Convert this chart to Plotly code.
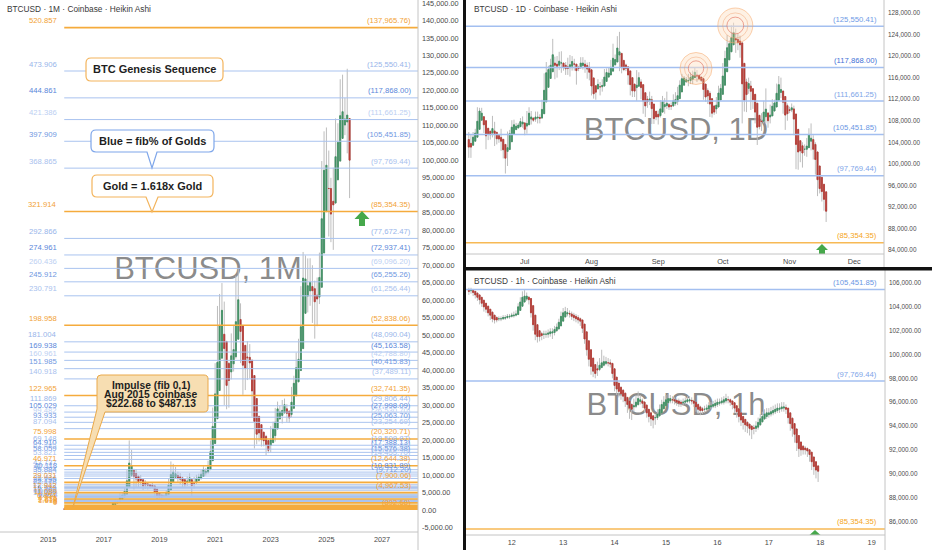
import plotly.graph_objects as go
import pandas as pd

W, H = 932, 550
FONT = "Liberation Sans, Arial, sans-serif"
UP, DN, WICK = "#3f9163", "#b63a33", "#bdbdbd"

# ---------------- Monthly Heikin Ashi (thousands USD), from Aug 2015 ----------------
m_open_k = [0.26, 0.25, 0.24, 0.26, 0.32,
            0.36, 0.38, 0.39, 0.41, 0.42, 0.46, 0.54, 0.60, 0.59, 0.59, 0.62, 0.67,
            0.77, 0.86, 0.97, 1.04, 1.13, 1.54, 2.01, 2.27, 3.02, 3.64, 4.49, 6.41,
            9.91, 11.29, 10.42, 9.64, 8.87, 8.65, 7.75, 7.46, 7.28, 7.04, 6.88, 6.00,
            4.89, 4.28, 3.99, 3.96, 4.37, 5.72, 7.95, 9.37, 9.85, 9.50, 9.16, 8.67,
            7.95, 8.10, 8.66, 7.83, 7.75, 8.41, 8.93, 9.58, 10.60, 10.84, 11.55, 14.10,
            19.00, 26.10, 34.17, 43.42, 50.26, 48.21, 41.92, 39.48, 41.79, 43.83, 48.84, 54.48,
            52.77, 47.09, 43.77, 43.65, 42.85, 38.45, 31.89, 26.78, 24.41, 22.26, 21.04, 19.85,
            18.48, 19.26, 21.24, 23.17, 26.05, 27.05, 27.76, 28.94, 28.29, 27.31, 29.08, 32.65,
            36.65, 39.88, 46.15, 56.24, 61.17, 62.66, 63.90, 63.30, 61.43, 60.88, 63.70, 73.50,
            85.33, 91.96, 91.95, 88.29, 87.78, 94.42, 99.78, 106.28, 110.10, 110.97, 111.96]
m_high_k = [0.28, 0.25, 0.33, 0.50, 0.47,
            0.46, 0.45, 0.44, 0.47, 0.55, 0.78, 0.70, 0.63, 0.63, 0.72, 0.76, 0.98,
            1.15, 1.22, 1.30, 1.38, 2.76, 3.00, 2.95, 4.75, 5.00, 6.47, 11.40, 19.89,
            17.18, 11.79, 11.68, 9.77, 9.99, 8.65, 8.50, 7.76, 7.41, 7.68, 6.88, 6.00,
            4.89, 4.28, 4.14, 5.64, 9.07, 13.88, 13.20, 12.33, 10.96, 10.54, 9.53, 8.67,
            9.58, 10.50, 9.20, 9.47, 10.07, 10.39, 11.44, 12.48, 12.05, 14.10, 19.90, 29.30,
            41.99, 58.35, 61.79, 64.90, 59.60, 48.21, 42.40, 50.50, 52.95, 67.00, 69.00, 59.10,
            52.77, 47.09, 48.24, 47.44, 42.85, 38.45, 31.89, 26.78, 24.41, 22.26, 21.48, 19.85,
            23.96, 25.25, 29.20, 31.00, 29.83, 31.45, 31.86, 30.25, 28.29, 35.20, 38.40, 45.00,
            48.97, 64.00, 73.80, 72.80, 71.95, 72.00, 70.00, 65.60, 66.50, 73.60, 99.80, 108.30,
            109.40, 102.80, 95.00, 97.90, 112.00, 110.60, 123.20, 124.50, 117.90, 126.20, 111.96]
m_low_k = [0.20, 0.23, 0.24, 0.26, 0.32,
           0.35, 0.37, 0.39, 0.41, 0.42, 0.46, 0.54, 0.47, 0.57, 0.59, 0.62, 0.67,
           0.75, 0.86, 0.89, 1.04, 1.13, 1.54, 1.83, 2.27, 2.95, 3.64, 4.49, 6.41,
           9.40, 5.87, 6.53, 6.43, 7.03, 5.75, 6.07, 5.88, 6.10, 6.20, 3.55, 3.12,
           3.36, 3.39, 3.67, 3.96, 4.37, 5.72, 7.95, 9.33, 7.71, 7.30, 6.51, 6.43,
           6.85, 8.10, 3.85, 6.15, 7.75, 8.41, 8.93, 9.58, 9.82, 10.38, 11.55, 14.10,
           19.00, 26.10, 34.17, 43.42, 30.00, 28.80, 29.28, 37.33, 39.60, 43.30, 48.84, 42.00,
           32.95, 34.30, 37.15, 37.58, 26.70, 17.60, 18.78, 19.60, 18.15, 18.20, 15.48, 16.26,
           16.50, 19.26, 19.55, 23.17, 25.88, 24.75, 27.76, 25.17, 24.90, 26.54, 29.08, 32.65,
           36.65, 39.88, 46.15, 56.24, 56.50, 58.40, 53.50, 49.00, 52.55, 58.90, 63.70, 73.50,
           85.33, 78.20, 76.60, 74.40, 87.78, 94.42, 99.78, 106.28, 107.20, 102.00, 89.20]
m_close_k = [0.25, 0.23, 0.28, 0.37, 0.41,
             0.40, 0.40, 0.42, 0.44, 0.49, 0.63, 0.65, 0.57, 0.60, 0.66, 0.72, 0.86,
             0.96, 1.08, 1.12, 1.22, 1.94, 2.48, 2.54, 3.76, 4.26, 5.35, 8.33, 13.41,
             12.67, 9.55, 8.87, 8.09, 8.44, 6.85, 7.17, 7.10, 6.79, 6.72, 5.13, 3.79,
             3.66, 3.71, 3.93, 4.79, 7.06, 10.18, 10.80, 10.34, 9.14, 8.82, 8.18, 7.23,
             8.24, 9.21, 7.00, 7.67, 9.06, 9.45, 10.23, 11.61, 11.08, 12.27, 16.65, 23.90,
             33.20, 42.23, 52.68, 57.10, 46.16, 35.62, 37.05, 44.10, 45.87, 53.86, 60.13, 51.06,
             41.41, 40.45, 43.53, 42.05, 34.04, 25.33, 21.67, 22.04, 20.11, 19.81, 18.66, 17.10,
             20.04, 23.22, 25.10, 28.92, 28.05, 28.48, 30.11, 27.65, 26.33, 30.84, 36.22, 40.65,
             43.10, 52.41, 66.33, 66.09, 64.15, 65.15, 62.70, 59.55, 60.34, 66.51, 83.30, 97.15,
             98.60, 91.94, 84.63, 87.26, 101.05, 105.13, 112.78, 113.93, 111.84, 112.94, 100.05]

# ---------------- Daily Heikin Ashi (thousands USD), from 5 Jun 2025 ----------------
d_open_k = [104.5, 103.8, 103.45, 104.2, 104.95, 106.4, 108.1, 108.75, 108.0, 106.6, 106.05, 105.7, 106.1,
            105.85, 105.25, 104.9, 104.55, 103.6, 102.3, 102.65, 104.1, 105.45, 106.35, 106.65, 106.9, 107.4,
            107.6, 107.0, 107.25, 108.3, 108.5, 108.3, 108.5, 108.6, 108.5, 109.3, 111.5, 114.2, 115.85, 117.1,
            118.7, 118.5, 118.3, 118.7, 118.7, 118.3, 118.0, 117.85, 118.1, 118.55, 118.5, 117.9, 117.8, 118.25,
            118.5, 118.25, 117.9,
            117.45, 115.95, 114.5, 113.9, 114.3, 114.3, 114.45, 115.3, 116.1, 116.5, 117.2, 118.4, 118.9, 120.2,
            120.5, 119.2, 118.35, 118.0, 117.25, 116.0, 114.8, 114.15, 114.4, 115.2, 114.7, 113.2, 112.0, 111.75,
            111.9, 111.1, 109.75,
            109.2, 108.95, 109.6, 110.6, 110.8, 111.0, 110.8, 110.75, 111.2, 111.55, 112.1, 113.35, 114.6, 115.25,
            115.4, 115.45, 115.7, 116.0, 116.5, 116.45, 116.1, 115.8, 114.8, 113.6, 113.1, 112.1, 110.75, 110.2,
            110.55, 111.85,
            112.9, 114.6, 117.1, 119.3, 120.8, 122.1, 123.25, 123.1, 122.8, 122.45, 118.65, 115.2, 114.0, 114.45,
            113.95, 112.9, 111.25, 109.0, 107.95, 107.9, 108.75, 109.45, 108.7, 108.9, 109.8, 110.55, 111.8, 113.25,
            113.5, 112.5, 110.8,
            110.05, 110.0, 110.2, 109.25, 106.4, 104.3, 103.35, 102.7, 102.7, 103.0, 104.2, 104.5, 103.6, 102.2,
            99.6, 97.5, 96.2, 94.8]
d_high_k = [105.9, 105.5, 105.9, 106.5, 110.5, 110.4, 110.4, 108.8, 108.0, 106.6, 106.1, 108.9, 107.8,
            105.85, 105.25, 106.5, 104.55, 103.6, 106.0, 106.3, 108.1, 108.2, 107.6, 107.6, 108.5, 108.8,
            107.6, 109.8, 110.5, 109.8, 108.5, 109.7, 109.7, 109.2, 111.9, 116.8, 118.9, 118.2, 119.5, 123.2,
            119.9, 120.0, 120.8, 120.9, 118.7, 118.9, 119.7, 120.2, 120.0, 119.5, 118.5, 118.2, 119.8, 119.8,
            119.3, 118.8, 118.9,
            117.45, 115.95, 114.5, 115.7, 115.2, 115.7, 117.6, 117.7, 117.9, 119.3, 122.3, 120.3, 123.7, 124.5,
            120.5, 119.2, 118.6, 118.0, 117.25, 116.0, 114.8, 117.4, 117.0, 115.7, 114.7, 113.2, 112.6, 113.4,
            112.6, 111.1, 109.75,
            109.9, 111.8, 112.6, 112.2, 113.4, 111.3, 111.4, 112.9, 113.3, 114.3, 115.5, 116.7, 116.3, 116.1,
            116.7, 117.0, 117.3, 117.9, 117.4, 116.45, 116.1, 115.8, 114.8, 114.0, 113.5, 112.1, 110.75, 112.4,
            114.5, 114.8,
            118.7, 121.0, 123.9, 122.9, 125.7, 126.2, 125.1, 124.2, 123.8, 122.5, 118.65, 115.8, 116.0, 115.4,
            113.95, 112.9, 111.25, 109.0, 109.4, 111.7, 114.0, 109.45, 111.0, 112.0, 111.9, 114.9, 116.3, 116.0,
            113.6, 112.5, 111.2,
            110.6, 111.2, 110.8, 109.25, 106.4, 104.3, 104.0, 103.6, 104.8, 106.6, 107.5, 105.3, 104.0, 102.2,
            99.6, 97.5, 96.2, 94.8]
d_low_k = [101.1, 101.1, 103.45, 104.2, 104.95, 106.4, 108.1, 105.7, 102.7, 104.4, 104.5, 104.9, 103.3,
           103.6, 103.9, 102.4, 101.0, 98.2, 99.6, 102.65, 104.1, 105.45, 106.3, 106.65, 106.9, 106.7,
           105.3, 105.6, 107.25, 107.3, 107.8, 107.8, 107.5, 107.5, 108.4, 109.3, 111.5, 114.2, 115.85, 117.1,
           115.7, 116.0, 117.4, 116.9, 117.3, 116.5, 116.5, 116.2, 117.3, 117.3, 114.7, 117.2, 117.8, 117.5,
           116.9, 115.8, 115.5,
           112.7, 112.1, 111.9, 113.9, 112.7, 113.4, 114.3, 115.3, 116.1, 116.5, 117.2, 118.2, 118.9, 117.2,
           116.8, 117.2, 117.2, 114.7, 112.7, 112.4, 112.4, 111.7, 114.4, 112.0, 109.3, 108.7, 110.4, 110.9,
           107.4, 107.4, 108.1,
           107.3, 108.6, 109.6, 109.3, 110.2, 110.0, 110.0, 110.6, 110.8, 110.9, 112.1, 113.35, 114.6, 115.0,
           114.4, 114.8, 114.8, 116.0, 115.2, 115.5, 115.2, 111.9, 111.5, 111.1, 108.7, 108.6, 109.1, 109.3,
           110.55, 111.85,
           112.9, 114.6, 117.1, 119.3, 120.8, 122.1, 120.6, 121.1, 119.7, 107.5, 109.7, 109.6, 113.0, 110.0,
           110.2, 107.5, 103.5, 106.4, 106.1, 107.5, 107.5, 106.7, 107.5, 108.9, 109.8, 110.55, 111.8, 112.2,
           109.3, 106.3, 108.0,
           109.4, 109.6, 105.3, 99.0, 98.9, 100.3, 99.3, 101.5, 101.3, 103.0, 102.5, 100.8, 98.0, 94.0,
           94.5, 93.0, 91.3, 89.2]
d_close_k = [103.1, 103.1, 104.95, 105.7, 107.9, 109.8, 109.4, 107.25, 105.2, 105.5, 105.4, 106.55, 105.6,
             104.65, 104.6, 104.2, 102.6, 101.05, 103.0, 105.6, 106.8, 107.25, 106.98, 107.2, 107.85, 107.75,
             106.4, 107.5, 109.4, 108.7, 108.1, 108.7, 108.65, 108.45, 110.1, 113.65, 116.9, 117.5, 118.3, 120.25,
             118.3, 118.1, 119.05, 118.75, 117.9, 117.65, 117.7, 118.4, 119.0, 118.5, 117.3, 117.7, 118.7, 118.7,
             118.0, 117.6, 117.0,
             114.45, 113.0, 113.3, 114.75, 114.3, 114.55, 116.1, 116.95, 116.85, 117.9, 119.6, 119.35, 121.5, 120.8,
             117.9, 117.5, 117.7, 116.5, 114.7, 113.55, 113.5, 114.6, 116.0, 114.15, 111.65, 110.75, 111.5, 112.05,
             110.25, 108.4, 108.7,
             108.7, 110.2, 111.55, 111.0, 111.25, 110.55, 110.7, 111.7, 111.9, 112.65, 114.6, 115.8, 115.9, 115.6,
             115.45, 116.0, 116.35, 117.0, 116.35, 115.8, 115.5, 113.8, 112.4, 112.6, 111.1, 109.4, 109.6, 110.9,
             113.15, 114.0,
             116.3, 119.55, 121.55, 122.3, 123.4, 124.4, 123.0, 122.5, 122.1, 114.85, 111.8, 112.85, 114.9, 113.45,
             111.9, 109.6, 106.8, 106.9, 107.85, 109.6, 110.15, 108.0, 109.05, 110.7, 111.3, 113.1, 114.7, 113.8,
             111.45, 109.05, 109.3,
             109.9, 110.4, 108.3, 103.6, 102.2, 102.4, 102.0, 102.7, 103.3, 105.4, 104.75, 102.7, 100.8, 97.05,
             95.4, 94.85, 93.4, 91.2]

# ---------------- Hourly Heikin Ashi (thousands USD), from 11 Nov 2025 04:00 ----------------
h_open_k = [105.4, 105.35, 105.4, 105.3, 105.15, 105.0, 104.8, 104.55, 104.3, 104.05,
            103.8, 103.55, 103.3, 103.1, 103.0, 103.0, 103.0, 103.05, 103.1, 103.15,
            103.2, 103.25, 103.3, 103.35, 103.7, 104.05, 104.4, 104.65, 104.8, 104.7,
            104.1, 103.3, 102.5, 102.0, 101.75, 101.7, 101.7, 101.7, 101.75, 101.8,
            101.85, 102.0, 102.15, 102.4, 102.8, 103.15, 103.4, 103.45, 103.4, 103.3,
            103.2, 103.1, 103.0, 102.9, 102.55, 101.9, 101.15, 100.4, 99.7, 99.15,
            98.8, 98.75, 98.9, 99.1, 99.25, 99.3, 99.3, 99.25, 98.8, 98.1,
            97.6, 97.25, 97.0, 96.75, 96.4, 96.1, 95.8, 95.6, 95.65, 95.8,
            96.05, 96.1, 96.0, 95.75, 95.4, 95.1, 94.85, 94.7, 94.7, 94.85,
            95.1, 95.45, 95.7, 95.95, 96.1, 96.2, 96.2, 96.15, 96.1, 96.0,
            95.95, 96.0, 96.05, 96.1, 96.15, 96.1, 96.0, 95.8, 95.6, 95.45,
            95.4, 95.4, 95.45, 95.6, 95.65, 95.7, 95.8, 95.9, 95.95, 96.0,
            96.1, 96.2, 96.2, 96.1, 95.95, 95.7, 95.45, 95.1, 94.8, 94.55,
            94.3, 94.15, 94.0, 93.85, 93.8, 93.9, 94.1, 94.35, 94.6, 94.8,
            94.95, 95.0, 95.1, 95.2, 95.3, 95.4, 95.45, 95.5, 95.55, 95.5,
            95.1, 94.65, 94.2, 93.75, 93.2, 92.65, 92.3, 92.15, 92.1, 92.0,
            91.8, 91.4, 91.0, 90.65]
h_high_k = [105.6, 105.6, 105.5, 105.3, 105.2, 105.0, 104.8, 104.6, 104.3, 104.1,
            103.8, 103.6, 103.3, 103.2, 103.2, 103.2, 103.3, 103.3, 103.4, 103.4,
            103.5, 103.6, 103.7, 104.3, 104.8, 105.3, 105.4, 105.2, 104.9, 104.7,
            104.1, 103.3, 102.5, 102.0, 101.9, 102.0, 102.0, 102.1, 102.2, 102.2,
            102.4, 102.6, 103.0, 103.6, 103.9, 104.0, 103.9, 103.7, 103.6, 103.5,
            103.4, 103.3, 103.1, 102.9, 102.55, 101.9, 101.15, 100.4, 99.7, 99.2,
            99.4, 99.7, 100.4, 99.9, 99.8, 99.7, 99.6, 99.3, 98.8, 98.1,
            97.6, 97.3, 97.1, 96.8, 96.4, 96.2, 95.9, 96.3, 96.6, 96.9,
            96.6, 96.3, 96.1, 95.8, 95.4, 95.2, 94.9, 95.0, 95.4, 95.8,
            96.2, 96.5, 96.6, 96.7, 96.6, 96.5, 96.4, 96.3, 96.3, 96.2,
            96.3, 96.4, 96.5, 96.5, 96.4, 96.2, 96.0, 95.9, 95.7, 95.6,
            95.7, 95.8, 96.0, 96.0, 96.1, 96.2, 96.3, 96.3, 96.4, 96.5,
            96.7, 96.5, 96.3, 96.1, 96.0, 95.7, 95.5, 95.1, 94.8, 94.6,
            94.4, 94.2, 94.0, 94.1, 94.4, 94.7, 95.0, 95.2, 95.4, 95.5,
            95.5, 95.6, 95.7, 95.8, 95.9, 95.9, 96.0, 96.0, 95.8, 95.5,
            95.1, 94.7, 94.2, 93.8, 93.2, 92.7, 92.4, 92.3, 92.2, 92.0,
            91.8, 91.4, 91.0, 90.7]
h_low_k = [105.0, 105.1, 104.9, 104.7, 104.5, 104.2, 104.0, 103.6, 103.5, 103.2,
           102.9, 102.7, 102.6, 102.7, 102.8, 102.8, 102.9, 102.9, 103.0, 103.0,
           103.1, 103.1, 103.2, 103.35, 103.7, 104.05, 104.4, 104.5, 104.2, 103.1,
           102.0, 101.2, 101.0, 101.1, 101.2, 101.3, 101.4, 101.4, 101.5, 101.3,
           101.6, 101.9, 102.1, 102.4, 102.8, 103.1, 103.2, 103.1, 102.9, 102.8,
           102.7, 102.6, 102.4, 101.8, 100.9, 99.9, 99.0, 98.3, 98.1, 98.0,
           98.2, 98.6, 98.9, 99.0, 99.1, 99.0, 98.9, 98.0, 96.9, 96.6,
           96.4, 96.2, 96.0, 95.6, 95.1, 94.6, 94.5, 95.2, 95.5, 95.7,
           95.8, 95.5, 95.1, 94.7, 94.3, 94.0, 93.8, 94.1, 94.5, 94.8,
           95.1, 95.4, 95.7, 95.9, 95.9, 95.9, 95.8, 95.7, 95.6, 95.6,
           95.7, 95.8, 95.9, 95.9, 95.8, 95.6, 95.2, 95.0, 94.9, 95.0,
           95.1, 95.2, 95.3, 95.4, 95.5, 95.5, 95.6, 95.7, 95.8, 95.8,
           95.9, 95.9, 95.7, 95.4, 95.1, 94.7, 94.3, 94.0, 93.7, 93.5,
           93.4, 93.2, 92.9, 93.3, 93.5, 93.7, 94.0, 94.3, 94.5, 94.6,
           94.7, 94.8, 94.9, 95.0, 95.1, 95.1, 95.2, 95.2, 95.0, 94.2,
           93.6, 93.1, 92.6, 91.9, 91.4, 91.5, 91.6, 91.6, 91.4, 91.0,
           90.3, 89.9, 89.6, 89.3]
h_close_k = [105.3, 105.4, 105.2, 105.0, 104.8, 104.6, 104.3, 104.0, 103.8, 103.5,
             103.3, 103.0, 102.9, 102.9, 103.0, 103.0, 103.1, 103.1, 103.2, 103.2,
             103.3, 103.3, 103.4, 104.0, 104.4, 104.8, 104.9, 104.9, 104.6, 103.5,
             102.5, 101.7, 101.5, 101.5, 101.6, 101.7, 101.7, 101.8, 101.9, 101.9,
             102.1, 102.3, 102.7, 103.2, 103.5, 103.6, 103.5, 103.4, 103.2, 103.1,
             103.0, 102.9, 102.8, 102.2, 101.3, 100.4, 99.6, 99.0, 98.6, 98.4,
             98.7, 99.1, 99.3, 99.4, 99.4, 99.3, 99.2, 98.4, 97.4, 97.1,
             96.9, 96.7, 96.5, 96.1, 95.8, 95.5, 95.4, 95.7, 96.0, 96.3,
             96.2, 95.9, 95.5, 95.1, 94.8, 94.6, 94.5, 94.7, 95.0, 95.4,
             95.8, 96.0, 96.2, 96.3, 96.3, 96.2, 96.1, 96.0, 95.9, 95.9,
             96.0, 96.1, 96.2, 96.2, 96.1, 95.9, 95.6, 95.4, 95.3, 95.3,
             95.4, 95.5, 95.7, 95.7, 95.8, 95.9, 96.0, 96.0, 96.1, 96.2,
             96.3, 96.2, 96.0, 95.8, 95.5, 95.2, 94.8, 94.5, 94.3, 94.1,
             94.0, 93.8, 93.7, 93.8, 94.0, 94.3, 94.6, 94.8, 95.0, 95.1,
             95.1, 95.2, 95.3, 95.4, 95.5, 95.5, 95.6, 95.6, 95.4, 94.7,
             94.2, 93.8, 93.3, 92.6, 92.1, 92.0, 92.0, 92.0, 91.9, 91.6,
             91.0, 90.6, 90.3, 90.2]

# ---------------- Fib levels (impulse Aug 2015: 222.68 -> 487.13) ----------------
fib_anchor = "2015-08-01"
gold_ratio_lbl = ["520.857", "321.914", "198.958", "122.965", "75.998", "46.971", "29.031", "17.942",
                  "11.089", "6.854", "4.236", "2.618", "1.618", "1", "0"]
gold_price = [137965.76, 85354.35, 52838.06, 32741.35, 20320.71, 12644.38, 7900.06, 4967.53,
              3155.17, 2035.22, 1342.89, 915.01, 650.56, 487.13, 222.68]
gold_price_lbl = ["(137,965.76)", "(85,354.35)", "(52,838.06)", "(32,741.35)", "(20,320.71)", "(12,644.38)",
                  "(7,900.06)", "(4,967.53)", "", "", "", "", "", "", "(892.68)"]

blue_ratio_lbl = ["473.906", "444.861", "421.386", "397.909", "368.865",
                  "292.866", "274.961", "260.436", "245.912", "230.791",
                  "181.004", "169.938", "160.961", "151.985", "140.918",
                  "111.869", "105.029", "99.482", "93.933", "87.094",
                  "69.148", "64.910", "61.485", "58.059", "53.821",
                  "42.737", "40.118", "38.001", "35.884", "33.265",
                  "26.414", "24.795", "23.487", "22.178", "20.559",
                  "16.325", "15.324", "14.516", "13.707", "12.706",
                  "10.090", "9.471", "8.972", "8.472", "7.853"]
blue_price = [125550.41, 117868.00, 111661.25, 105451.85, 97769.44,
              77672.47, 72937.41, 69096.20, 65255.26, 61256.44,
              48090.04, 45163.58, 42788.80, 40415.83, 37489.11,
              29806.44, 27998.09, 26530.70, 25063.70, 23254.69,
              18508.87, 17388.13, 16482.39, 15576.38, 14455.70,
              11524.48, 10831.89, 10272.04, 9712.20, 9019.61,
              7207.86, 6779.72, 6433.82, 6087.65, 5659.51,
              4539.80, 4275.10, 4061.50, 3847.50, 3582.80,
              2891.00, 2727.30, 2595.30, 2463.10, 2299.40]
blue_fib = [0.764, 0.618, 0.5, 0.382, 0.236,
            0.764, 0.618, 0.5, 0.382, 0.236,
            0.764, 0.618, 0.5, 0.382, 0.236,
            0.764, 0.618, 0.5, 0.382, 0.236,
            0.764, 0.618, 0.5, 0.382, 0.236,
            0.764, 0.618, 0.5, 0.382, 0.236,
            0.764, 0.618, 0.5, 0.382, 0.236,
            0.764, 0.618, 0.5, 0.382, 0.236,
            0.764, 0.618, 0.5, 0.382, 0.236]
blue_show_price = [1, 1, 1, 1, 1, 1, 1, 1, 1, 1, 1, 1, 1, 1, 1, 1, 1, 1, 1, 1, 1, 1, 1, 1, 1,
                   0, 1, 0, 1, 0, 0, 0, 0, 0, 0, 0, 0, 0, 0, 0, 0, 0, 0, 0, 0]

d_blue_price = [125550.41, 117868.00, 111661.25, 105451.85, 97769.44]
d_blue_fib = [0.764, 0.618, 0.5, 0.382, 0.236]
h_blue_price = [105451.85, 97769.44]
h_blue_fib = [0.382, 0.236]
target_gold = 85354.35

# ---------------- ticks ----------------
year_ticks = ["2015-01-01", "2017-01-01", "2019-01-01", "2021-01-01", "2023-01-01", "2025-01-01", "2027-01-01"]
year_lbls = ["2015", "2017", "2019", "2021", "2023", "2025", "2027"]
month_ticks = ["2025-07-01", "2025-08-01", "2025-09-01", "2025-10-01", "2025-11-01", "2025-12-01"]
month_lbls = ["Jul", "Aug", "Sep", "Oct", "Nov", "Dec"]
day_ticks = ["2025-11-12", "2025-11-13", "2025-11-14", "2025-11-15", "2025-11-16", "2025-11-17", "2025-11-18", "2025-11-19"]
day_lbls = ["12", "13", "14", "15", "16", "17", "18", "19"]
m_price_ticks = [-5000, 0, 5000, 10000, 15000, 20000, 25000, 30000, 35000, 40000, 45000, 50000, 55000,
                 60000, 65000, 70000, 75000, 80000, 85000, 90000, 95000, 100000, 105000, 110000, 115000,
                 120000, 125000, 130000, 135000, 140000, 145000]
d_price_ticks = [84000, 88000, 92000, 96000, 100000, 104000, 108000, 112000, 116000, 120000, 124000, 128000]
h_price_ticks = [86000, 88000, 90000, 92000, 94000, 96000, 98000, 100000, 102000, 104000, 106000]

# ---------------- view ranges ----------------
L_XR = ["2013-04-10", "2028-04-17"]
L_YR = [-6300, 145860]
D_XR = ["2025-06-03 17:00", "2025-12-14 21:00"]
D_YR = [83257, 130414]
H_XR = ["2025-11-11 02:40", "2025-11-19 06:13"]
H_YR = [84850, 107049]

m_x = pd.date_range("2015-08-01", periods=len(m_close_k), freq="MS")
d_x = pd.date_range("2025-06-05", periods=len(d_close_k), freq="D")
h_x = pd.date_range("2025-11-11 04:00", periods=len(h_close_k), freq="h")


def usd(vals):
    return [v * 1000 for v in vals]


fig = go.Figure()


def add_ha(x, o, h, l, c, xa, ya, body_w):
    o, h, l, c = usd(o), usd(h), usd(l), usd(c)
    fig.add_trace(go.Candlestick(
        x=x, open=o, high=h, low=l, close=c, xaxis=xa, yaxis=ya,
        increasing=dict(line=dict(color=WICK, width=1), fillcolor=WICK),
        decreasing=dict(line=dict(color=WICK, width=1), fillcolor=WICK),
        whiskerwidth=0, hoverinfo="skip", showlegend=False))
    top = [max(a, b) for a, b in zip(o, c)]
    bot = [min(a, b) for a, b in zip(o, c)]
    fig.add_trace(go.Candlestick(
        x=x, open=o, high=top, low=bot, close=c, xaxis=xa, yaxis=ya,
        increasing=dict(line=dict(color=UP, width=body_w), fillcolor=UP),
        decreasing=dict(line=dict(color=DN, width=body_w), fillcolor=DN),
        whiskerwidth=0, hoverinfo="skip", showlegend=False))


add_ha(m_x, m_open_k, m_high_k, m_low_k, m_close_k, "x", "y", 0.8)
add_ha(d_x, d_open_k, d_high_k, d_low_k, d_close_k, "x2", "y2", 0.8)
add_ha(h_x, h_open_k, h_high_k, h_low_k, h_close_k, "x3", "y3", 0.8)


def px(x):
    return x / W


def py(y):
    return 1 - y / H


def P(x, y):
    return f"{px(x):.5f},{py(y):.5f}"


shapes = []
ann = []

# watermarks (behind candles)
for cx, cy, txt in [(208, 265, "BTCUSD, 1M"), (676, 126, "BTCUSD, 1D"), (676, 401, "BTCUSD, 1h")]:
    shapes.append(dict(type="rect", xref="paper", yref="paper", layer="below",
                       x0=px(cx - 110), x1=px(cx + 110), y0=py(cy + 20), y1=py(cy - 20),
                       line=dict(width=0), fillcolor="rgba(0,0,0,0)",
                       label=dict(text=txt, textposition="middle center",
                                  font=dict(family=FONT, size=31, color="rgba(118,118,118,0.85)"))))

# faint fib fills near bottom of monthly chart
shapes.append(dict(type="rect", xref="x", yref="y", layer="below", x0=fib_anchor, x1=L_XR[1],
                   y0=gold_price[14], y1=gold_price[7], line=dict(width=0), fillcolor="rgba(190,220,170,0.28)"))
shapes.append(dict(type="rect", xref="x", yref="y", layer="below", x0=fib_anchor, x1=L_XR[1],
                   y0=gold_price[7], y1=gold_price[6], line=dict(width=0), fillcolor="rgba(250,225,180,0.22)"))

LBL_L = {0.764: "#98b5ea", 0.618: "#5a87da", 0.5: "#bccff2", 0.382: "#7098df", 0.236: "#a9c1ee"}
LBL_R = {0.764: "#6f9be6", 0.618: "#3f72d6", 0.5: "#7ea5e8", 0.382: "#6a97e4", 0.236: "#7fa6e9"}
GOLD_TXT = "#f2a236"

# monthly fib lines and labels
for r, p, f, show in zip(blue_ratio_lbl, blue_price, blue_fib, blue_show_price):
    shapes.append(dict(type="line", xref="x", yref="y", x0=fib_anchor, x1=L_XR[1], y0=p, y1=p,
                       line=dict(color="#a9c3ef", width=1)))
    ann.append(dict(xref="paper", yref="y", x=px(59), y=p, text=r, xanchor="right", yanchor="middle",
                    yshift=7, showarrow=False, font=dict(family=FONT, size=7.7, color=LBL_L[f])))
    if show:
        ann.append(dict(xref="paper", yref="y", x=px(413), y=p, text=f"({p:,.2f})", xanchor="right",
                        yanchor="middle", yshift=7, showarrow=False,
                        font=dict(family=FONT, size=7.7, color=LBL_L[f])))
for r, p, t in zip(gold_ratio_lbl, gold_price, gold_price_lbl):
    shapes.append(dict(type="line", xref="x", yref="y", x0=fib_anchor, x1=L_XR[1], y0=p, y1=p,
                       line=dict(color="#f5ab3c", width=1.6)))
    ann.append(dict(xref="paper", yref="y", x=px(59), y=p, text=r, xanchor="right", yanchor="middle",
                    yshift=7, showarrow=False, font=dict(family=FONT, size=7.7, color=GOLD_TXT)))
    if t:
        ann.append(dict(xref="paper", yref="y", x=px(413), y=p, text=t, xanchor="right", yanchor="middle",
                        yshift=7, showarrow=False, font=dict(family=FONT, size=7.7, color=GOLD_TXT)))

# daily / hourly fib lines
for xa, ya, xr, prices, fibs, lx in [("x2", "y2", D_XR, d_blue_price, d_blue_fib, 879),
                                      ("x3", "y3", H_XR, h_blue_price, h_blue_fib, 879)]:
    for p, f in zip(prices, fibs):
        shapes.append(dict(type="line", xref=xa, yref=ya, x0=xr[0], x1=xr[1], y0=p, y1=p,
                           line=dict(color="#a3bff0", width=1.5)))
        ann.append(dict(xref="paper", yref=ya, x=px(lx), y=p, text=f"({p:,.2f})", xanchor="right",
                        yanchor="middle", yshift=7, showarrow=False,
                        font=dict(family=FONT, size=7.7, color=LBL_R[f])))
    shapes.append(dict(type="line", xref=xa, yref=ya, x0=xr[0], x1=xr[1], y0=target_gold, y1=target_gold,
                       line=dict(color="#f7b955", width=1.5)))
    ann.append(dict(xref="paper", yref=ya, x=px(lx), y=target_gold, text=f"({target_gold:,.2f})",
                    xanchor="right", yanchor="middle", yshift=7, showarrow=False,
                    font=dict(family=FONT, size=7.7, color="#f5a623")))


# ---------------- callout boxes ----------------
def box_path(x0, y0, x1, y1, r, pointer=None):
    s = f"M {P(x0 + r, y0)} L {P(x1 - r, y0)} Q {P(x1, y0)} {P(x1, y0 + r)} L {P(x1, y1 - r)} " \
        f"Q {P(x1, y1)} {P(x1 - r, y1)}"
    if pointer:
        pl, pr, tx, ty = pointer
        s += f" L {P(pr, y1)} L {P(tx, ty)} L {P(pl, y1)}"
    s += f" L {P(x0 + r, y1)} Q {P(x0, y1)} {P(x0, y1 - r)} L {P(x0, y0 + r)} Q {P(x0, y0)} {P(x0 + r, y0)} Z"
    return s


ORANGE_B = "#f3b45c"
BLUE_B = "#7ea6ea"
shapes.append(dict(type="path", xref="paper", yref="paper", path=box_path(86, 58, 223, 81, 5),
                   fillcolor="white", line=dict(color=ORANGE_B, width=1.2)))
shapes.append(dict(type="path", xref="paper", yref="paper",
                   path=box_path(91, 130, 214, 152, 5, (147, 157, 152, 168)),
                   fillcolor="white", line=dict(color=BLUE_B, width=1.2)))
shapes.append(dict(type="path", xref="paper", yref="paper",
                   path=box_path(92, 175, 213, 197, 5, (146, 158, 152, 212)),
                   fillcolor="white", line=dict(color=ORANGE_B, width=1.2)))
imp = (f"M {P(101, 375)} L {P(204, 375)} Q {P(208, 375)} {P(208, 379)} L {P(208, 408)} "
       f"Q {P(208, 412)} {P(204, 412)} L {P(105, 412)} L {P(73, 507)} L {P(97, 409)} "
       f"L {P(97, 379)} Q {P(97, 375)} {P(101, 375)} Z")
shapes.append(dict(type="path", xref="paper", yref="paper", path=imp,
                   fillcolor="#f7deb2", line=dict(color="#eaa94a", width=1)))

for cx, cy, txt, sz in [(154.5, 69.5, "BTC Genesis Sequence", 11), (152.5, 141, "Blue = fib% of Golds", 11),
                        (152.5, 186, "Gold = 1.618x Gold", 11), (151, 385, "Impulse (fib 0,1)", 10.3),
                        (151, 394, "Aug 2015 coinbase", 10.3), (151, 403, "$222.68 to $487.13", 10.3)]:
    ann.append(dict(xref="paper", yref="paper", x=px(cx), y=py(cy), text=f"<b>{txt}</b>", showarrow=False,
                    xanchor="center", yanchor="middle", font=dict(family=FONT, size=sz, color="#1e1e1e")))

# green arrows
GREEN = "#46a84b"
shapes.append(dict(type="path", xref="paper", yref="paper", fillcolor=GREEN, line=dict(width=0),
                   path=f"M {P(362, 211)} L {P(369.5, 219)} L {P(365, 219)} L {P(365, 226)} L {P(359, 226)} "
                        f"L {P(359, 219)} L {P(354.5, 219)} Z"))
shapes.append(dict(type="path", xref="paper", yref="paper", fillcolor=GREEN, line=dict(width=0),
                   path=f"M {P(822, 244)} L {P(828, 250)} L {P(825, 250)} L {P(825, 254)} L {P(819, 254)} "
                        f"L {P(819, 250)} L {P(816, 250)} Z"))
shapes.append(dict(type="path", xref="paper", yref="paper", fillcolor=GREEN, line=dict(width=0),
                   path=f"M {P(815, 530)} L {P(820.5, 535)} L {P(809.5, 535)} Z"))

# orange highlight circles on daily chart
for cx, cy, r in [(735.3, 25.5, 17.5), (696, 68.5, 16)]:
    shapes.append(dict(type="circle", xref="paper", yref="paper", x0=px(cx - r), x1=px(cx + r),
                       y0=py(cy + r), y1=py(cy - r), fillcolor="rgba(250,190,130,0.22)",
                       line=dict(color="rgba(245,170,110,0.55)", width=1)))
    r2 = r * 0.72
    shapes.append(dict(type="circle", xref="paper", yref="paper", x0=px(cx - r2), x1=px(cx + r2),
                       y0=py(cy + r2), y1=py(cy - r2), fillcolor="rgba(0,0,0,0)",
                       line=dict(color="rgba(240,160,110,0.45)", width=1)))
    r3 = r * 0.48
    shapes.append(dict(type="circle", xref="paper", yref="paper", x0=px(cx - r3), x1=px(cx + r3),
                       y0=py(cy + r3), y1=py(cy - r3), fillcolor="rgba(255,240,228,0.35)",
                       line=dict(color="rgba(225,110,90,0.6)", width=1)))

# panel frames
BORDER = "#c4c4c4"
for x0, y0, x1, y1 in [(418, 0, 418, 550), (0, 532, 418, 532),
                       (884, 0, 884, 267), (466, 254, 884, 254),
                       (885, 270, 885, 550), (466, 535, 885, 535)]:
    shapes.append(dict(type="line", xref="paper", yref="paper", x0=px(x0), x1=px(x1), y0=py(y0), y1=py(y1),
                       line=dict(color=BORDER, width=1)))
shapes.append(dict(type="rect", xref="paper", yref="paper", x0=px(463), x1=px(466), y0=0, y1=1,
                   fillcolor="#111111", line=dict(width=0)))
shapes.append(dict(type="rect", xref="paper", yref="paper", x0=px(463), x1=1, y0=py(270.5), y1=py(267),
                   fillcolor="#111111", line=dict(width=0)))

# headers
for x, y, txt in [(5, 9, "BTCUSD · 1M · Coinbase · Heikin Ashi"), (472, 9, "BTCUSD · 1D · Coinbase · Heikin Ashi"),
                  (472, 281, "BTCUSD · 1h · Coinbase · Heikin Ashi")]:
    ann.append(dict(xref="paper", yref="paper", x=px(x), y=py(y), text=txt, showarrow=False,
                    xanchor="left", yanchor="middle", font=dict(family=FONT, size=8.3, color="#3a3a3a")))

xcommon = dict(type="date", showgrid=False, zeroline=False, showline=False, ticks="",
               rangeslider=dict(visible=False), fixedrange=True, ticklabelstandoff=2,
               tickfont=dict(family=FONT, size=7.3, color="#4a4a4a"))
ycommon = dict(showgrid=False, zeroline=False, showline=False, ticks="", side="right", fixedrange=True,
               ticklabelstandoff=3, ticklabeloverflow="allow")

fig.update_layout(
    width=W, height=H, margin=dict(l=0, r=0, t=0, b=0),
    paper_bgcolor="white", plot_bgcolor="rgba(0,0,0,0)", showlegend=False,
    xaxis=dict(domain=[0, px(418)], anchor="y", range=L_XR, tickvals=year_ticks, ticktext=year_lbls, **xcommon),
    yaxis=dict(domain=[py(532), 1], anchor="x", range=L_YR, tickvals=m_price_ticks,
               ticktext=[f"{v:,.2f}" for v in m_price_ticks],
               tickfont=dict(family=FONT, size=7.3, color="#4a4a4a"), **ycommon),
    xaxis2=dict(domain=[px(466), px(884)], anchor="y2", range=D_XR, tickvals=month_ticks, ticktext=month_lbls,
                **xcommon),
    yaxis2=dict(domain=[py(254), 1], anchor="x2", range=D_YR, tickvals=d_price_ticks,
                ticktext=[f"{v:,.2f}" for v in d_price_ticks],
                tickfont=dict(family=FONT, size=6.4, color="#4a4a4a"), **ycommon),
    xaxis3=dict(domain=[px(466), px(885)], anchor="y3", range=H_XR, tickvals=day_ticks, ticktext=day_lbls,
                **xcommon),
    yaxis3=dict(domain=[py(535), py(270.5)], anchor="x3", range=H_YR, tickvals=h_price_ticks,
                ticktext=[f"{v:,.2f}" for v in h_price_ticks],
                tickfont=dict(family=FONT, size=6.4, color="#4a4a4a"), **ycommon),
    shapes=shapes, annotations=ann,
)

fig.write_html("out.html", config={"displayModeBar": False, "staticPlot": True},
               post_script="document.body.style.margin='0';document.body.style.padding='0';")
